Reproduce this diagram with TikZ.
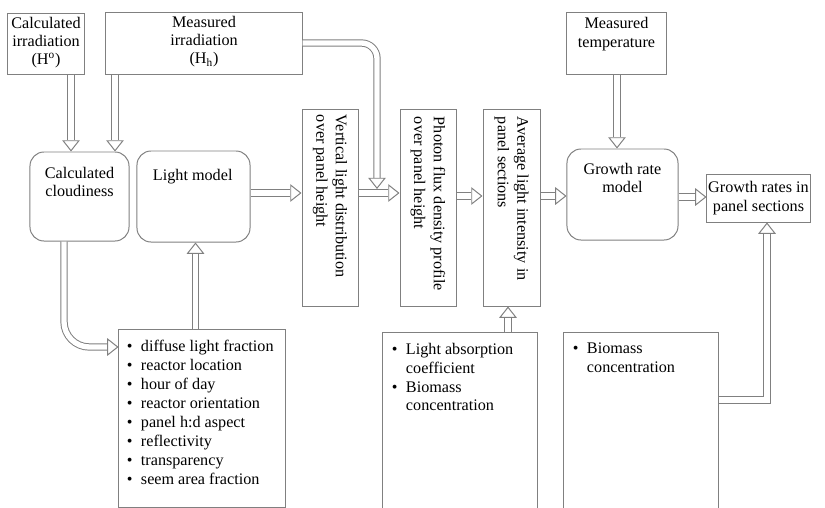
\documentclass[tikz,border=0pt]{standalone}
\usepackage{fontspec}
\setmainfont{Liberation Serif}
\usetikzlibrary{arrows.meta}

\definecolor{edgegray}{RGB}{128,128,128}
\newcommand{\tbox}[4][t]{\parbox[c][#3][#1]{#2}{#4}}
\newcommand{\bul}{\makebox[0.35cm][l]{\textbullet}}
\newcommand{\bulgap}{\hspace*{0.35cm}}

\tikzset{
  box/.style={draw=edgegray, line width=0.7pt, inner sep=0pt,
    font=\fontsize{11.5}{13}\selectfont},
  roundbox/.style={box, rounded corners=10pt},
  openbox/.style={box, draw=none},
  upright/.style={box, rotate=-90, font=\fontsize{11.5}{14}\selectfont},
  listfont/.style={font=\fontsize{11.5}{13.5}\selectfont},
  pipe/.style={draw=edgegray, line width=0.7pt, double=white, double distance=3.8pt,
    -{Triangle[open, fill=white, line width=0.7pt, length=8pt, width=12.5pt]}},
}

\begin{document}
\begin{tikzpicture}[x=0.025cm, y=-0.025cm]
  \useasboundingbox (0,0) rectangle (825,508);

  % inputs on top
  \node[box] (irrcalc) at (46,43.5)
    {\tbox{1.9cm}{1.525cm}{\centering\vspace*{3pt}Calculated\\irradiation\\(H\textsuperscript{o})}};
  \node[box] (irrmeas) at (204,43)
    {\tbox{4.9cm}{1.55cm}{\centering\vspace*{3pt}Measured\\irradiation\\(H\textsubscript{h})}};
  \node[box] (tempmeas) at (616.5,43)
    {\tbox{2.475cm}{1.55cm}{\centering\vspace*{4pt}Measured\\temperature}};

  % models and profiles
  \node[roundbox] (cloud) at (79.5,196.5)
    {\tbox{2.475cm}{2.225cm}{\centering\vspace*{11pt}Calculated\\cloudiness}};
  \node[roundbox] (light) at (193.5,196.5)
    {\tbox{2.825cm}{2.275cm}{\vspace*{13pt}\hspace*{0.4cm}Light model}};
  \node[upright] (vert) at (330,208)
    {\tbox[c]{4.9cm}{1.4cm}{\raggedright\leftskip=0.125cm Vertical light distribution\\over panel height}};
  \node[upright] (photon) at (428,208)
    {\tbox[c]{4.9cm}{1.4cm}{\raggedright\leftskip=0.175cm Photon flux density profile\\over panel height}};
  \node[upright] (avg) at (511.5,208)
    {\tbox[c]{4.9cm}{1.425cm}{\raggedright\leftskip=0.175cm Average light intensity in\\panel sections}};
  \node[roundbox] (growth) at (622.5,194.5)
    {\tbox{2.775cm}{2.275cm}{\centering\vspace*{10pt}Growth rate\\model}};
  \node[box] (rates) at (758.5,198)
    {\tbox[c]{2.575cm}{1.2cm}{\centering Growth rates in\\panel sections}};

  % parameter lists
  \node[box, listfont] (params) at (202,418.5)
    {\tbox{4.15cm}{4.425cm}{\raggedright\leftskip=0.2cm\vspace*{7pt}%
      \bul diffuse light fraction\\\bul reactor location\\\bul hour of day\\%
      \bul reactor orientation\\\bul panel h:d aspect\\\bul reflectivity\\%
      \bul transparency\\\bul seem area fraction}};
  \node[openbox, listfont] (absorb) at (460,420.5)
    {\tbox{3.85cm}{4.375cm}{\raggedright\leftskip=0.225cm\vspace*{7pt}%
      \bul Light absorption\\\bulgap coefficient\\\bul Biomass\\\bulgap concentration}};
  \node[openbox, listfont] (biomass) at (641,420.5)
    {\tbox{3.85cm}{4.375cm}{\raggedright\leftskip=0.225cm\vspace*{7pt}%
      \bul Biomass\\\bulgap concentration}};
  \draw[edgegray, line width=0.7pt] (absorb.south west) -- (absorb.north west)
    -- (absorb.north east) -- (absorb.south east);
  \draw[edgegray, line width=0.7pt] (biomass.south west) -- (biomass.north west)
    -- (biomass.north east) -- (biomass.south east);

  % connectors
  \coordinate (join) at (377,189);
  \draw[pipe] (71,0 |- irrcalc.south) -- (71,0 |- cloud.north);
  \draw[pipe] (115,0 |- irrmeas.south) -- (115,0 |- cloud.north);
  \draw[pipe, rounded corners=11pt] (irrmeas.east) -- (join |- irrmeas.east) -- (join);
  \draw[pipe] (light.east |- 0,193) -- (vert.south |- 0,193);
  \draw[pipe] (vert.north |- 0,193) -- (photon.south |- 0,193);
  \draw[pipe] (photon.north |- 0,196) -- (avg.south |- 0,196);
  \draw[pipe] (avg.north |- 0,196) -- (growth.west |- 0,196);
  \draw[pipe] (growth.east |- 0,197) -- (rates.west |- 0,197);
  \draw[pipe] (617,0 |- tempmeas.south) -- (617,0 |- growth.north);
  \draw[pipe, rounded corners=18pt] (64,0 |- cloud.south) -- (64,347) -- (params.west |- 0,347);
  \draw[pipe] (195.5,0 |- params.north) -- (195.5,0 |- light.south);
  \draw[pipe] (508,0 |- absorb.north) -- (508,0 |- avg.east);
  \draw[pipe] (biomass.east |- 0,400) -- (767,400) -- (767,0 |- rates.south);
\end{tikzpicture}
\end{document}
